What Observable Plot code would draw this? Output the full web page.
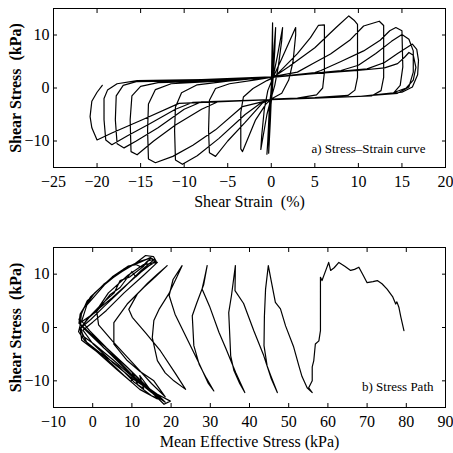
<!DOCTYPE html>
<html><head><meta charset="utf-8">
<script src="https://cdn.jsdelivr.net/npm/d3@7"></script>
<script src="https://cdn.jsdelivr.net/npm/@observablehq/plot@0.6"></script>
<style>body{margin:0;background:#fff;} svg{display:block;} #root{width:453px;} #root svg, #root svg text{font-family:"Liberation Serif","DejaVu Serif",serif !important;}</style>
</head><body><div id="root"></div>
<script>
// ---------- Panel a: shear strain (%) vs shear stress (kPa), in time order ----------
const cyclesEarly = [
  [0,0],[0.05,4],[0.15,12.3],
  [0.15,8],[0.05,0],[-0.1,-6],[-0.3,-12.3],
  [-0.25,-8],[-0.05,-1],[0.2,5],[0.5,11.4],
  [0.4,7],[0.1,-1],[-0.2,-6],[-0.5,-12.5],
  [-0.4,-10],[-0.2,-3],[0.2,2],[0.7,6],[1.3,11.4],
  [1.2,9],[0.8,4],[0.4,0.5],[0,-1.8],[-0.5,-5],[-1.2,-11.6],
  [-1.1,-9],[-0.8,-4],[-0.4,-0.5],[0.2,2],[1.2,5.5],[2.8,11.4],
  [2.8,10],[2.5,5],[2,1.5],[1.2,-1],[0.2,-1.9],[-0.6,-3],[-1.8,-6],[-3.3,-12]
];
const cyclesMid = [
  [-3.5,-11.5],[-3.5,-4.6],[-3.2,-1.7],[-2.1,-0.1],[-0.5,1.4],[0.3,2],[1.5,4],[3,6.5],[4.5,9.5],[5.4,11.8],[6.1,11.9],
  [6.1,10],[6.1,3],[5.9,0],[5.2,-1.3],[3,-1.9],[0,-2.1],[-1,-2.8],[-3,-6.5],[-5,-10],[-6.4,-12.9],
  [-7.1,-12.2],[-7.2,-8],[-7.1,-2.3],[-6.4,-0.1],[-4.8,0.8],[-2,1.5],[0.3,2.1],[2,4],[5,7.6],[7.5,11.5],[8.9,13.6],
  [9.5,12.8],[9.9,12],[9.9,2],[9.6,-0.4],[8.8,-1.4],[5,-1.8],[0,-2.1],[-1,-2.6],[-3,-5],[-6,-9.5],[-8.5,-12.8],[-10.2,-14.4],
  [-11,-13.6],[-11.1,-8],[-11,-3.6],[-10.3,-0.9],[-8.5,0.6],[-5,1.3],[0,2.1],[3,3],[5,4.8],[6.8,6.4],[9,9],[10.6,11.7],[12.4,12.6],[12.9,11.8],
  [12.9,2],[12.6,-0.5],[11.5,-1.5],[5,-1.9],[0,-2.2],[-3.3,-3.5],[-6.4,-7.9],[-9,-10.8],[-11.3,-12.9],[-13.3,-14.1]
];
const cyclesLate = [
  [-14.1,-13.4],[-14.2,-8],[-14.1,-3],[-13.3,-0.3],[-11.5,0.8],[-5,1.4],[0,2],[5,2.9],[5.7,3.3],[8,5],[10.6,7],[12.5,9],[13.6,10.8],[14.3,11.4],
  [15,10.8],[15.1,4],[14.8,0.5],[14,-1.0],[10,-1.6],[0,-2.2],[-6,-2.5],[-8,-4],[-11,-7],[-13.5,-10],[-15.4,-12.6],
  [-16.1,-12],[-16.2,-6],[-16,-1.5],[-15,0.3],[-13,1],[-5,1.4],[0,2],[8,3.3],[10,4.3],[12,6.5],[13.8,8.8],[15,10.1],
  [15.8,9.2],[16.3,7],[16.3,3],[15.8,0.2],[14.5,-1],[10,-1.6],[0,-2.2],[-8,-2.6],[-10,-4],[-13,-7.5],[-15.5,-10],[-16.9,-11.3],
  [-17.7,-10.5],[-17.9,-6],[-17.8,-1.5],[-17,0.5],[-15.5,1.2],[-8,1.4],[0,2],[11,3.6],[13,4.8],[14.5,6.5],[16.2,8.3],
  [16.7,7.3],[16.9,5.2],[16.8,2.5],[16.2,0.2],[15,-0.8],[10,-1.6],[0,-2.2],[-9,-2.7],[-11,-4],[-14,-6.8],[-16.5,-9],[-18.3,-10.7],
  [-19,-9.8],[-19.2,-6],[-19.2,-2],[-18.8,-0.4],[-17.7,0.8],[-15.4,1.4],[-8,1.6],[0,2.1],[9.9,3.3],[13,3.8],[14.5,4.6],[15.3,5.8],[15.8,6.7],
  [16.3,6.2],[16.6,3.9],[16.3,1.5],[15.5,0],[14,-0.9],[10,-1.6],[0,-2.2],[-10.6,-2.9],[-14.8,-6],[-18.3,-8.5],[-20,-9.8],
  [-20.6,-7.5],[-20.8,-5.4],[-20.6,-2.5],[-20,-0.8],[-19.4,0.5]
];

// ---------- Panel b: mean effective stress (kPa) vs shear stress (kPa), in time order ----------
const pathEarly = [
  [79.4,-0.6],[78.6,2.0],[78.1,3.8],[77.6,4.8],[77.3,4.4],[76.5,5.8],[75.1,7.2],[73.8,8.2],[72.6,8.8],[71.5,8.6],[70.0,8.4],
  [69.0,9.8],[67.9,11.3],[66.8,10.9],[65.8,10.7],[64.3,11.5],[62.8,12.2],[61.6,11.2],[60.7,10.7],[60.2,12.2],[59.6,11.0],
  [58.5,8.8],[58.1,9.4],[58.1,4.0],[58.1,-0.6],[57.7,-2.5],[56.8,-3.1],[56.4,-6.2],[56.0,-7.4],[56.0,-10.0],[55.1,-11.3],[56.0,-12.2],
  [54.7,-11.3],[53.4,-9.2],[52.6,-7.2],[51.2,-3.5],[49.2,0.3],[47.9,3.5],[46.6,4.7],[45.6,8.5],[44.8,11.6],
  [44.1,7.2],[43.8,2.0],[43.7,-3.4],[44.5,-7.2],[45.4,-9.0],[47.1,-12.2],
  [45.5,-9.5],[43.5,-5.0],[41.1,-0.6],[38.5,4.5],[36.3,6.9],[36.4,11.6],
  [35.4,6.0],[34.7,2.8],[35.0,-2.0],[35.2,-5.3],[36.0,-8.0],[37.5,-10.5],[38.8,-12.2],
  [36.5,-8.5],[34.0,-4.0],[32.2,-0.9],[29.8,4.0],[27.9,7.2],[28.6,9.5],[29.2,11.6],
  [28.3,8.0],[26.5,4.5],[25.4,2.2],[25.8,-3.4],[27.2,-7.0],[29.0,-9.5],[30.9,-11.9]
];
const pathMid = [
  [29.5,-10.5],[27,-6.5],[24,-2],[21,2.5],[19.5,6],[20.5,9],[22.8,11.6],
  [21.5,9.5],[19.4,6.3],[17,3.5],[15.6,1.3],[15.2,-1.9],[16.5,-6.2],[18.5,-8.5],[20.7,-10],[23.7,-11.6],
  [21,-8.5],[17.3,-4.4],[13.5,-1],[10.1,1.9],[9.2,3.4],[11.4,6.3],[14,8.3],[16.5,10.0],[19,11.6],
  [16,9.5],[13,7.5],[8.8,4.4],[5.4,0.9],[5.4,-3.1],[8.8,-6.2],[12,-8.2],[15.6,-10],[18.5,-13],
  [15,-10.5],[10,-6.5],[5,-2.5],[1.5,0.5],[1,3.2],[4,6.5],[9,9.8],[13,11.8],[16.5,12.2],
  [13,9.8],[8,6.5],[3.5,3.2],[0,1.0],[-2.5,-0.5],[0,-3.0],[5,-6.5],[10,-9.5],[14,-11.5],[17,-13]
];
const pathLate = [
  [13,-10.8],[8.8,-8.1],[4.5,-5],[0,-1.8],[-2.8,0.2],[-3.5,1.5],[-1.4,5.0],[2.8,8.1],[8.8,11.3],[12,12.2],[14.7,13.1],[16,12.5],
  [12,10.2],[8.8,8.1],[5,5.6],[2,3.8],[-1,1.8],[-3,0],[-2.5,-1.6],[0.3,-3.1],[5.4,-6.2],[11.3,-10],[15,-12.2],[17.3,-13.1],[18.5,-14],
  [15,-12.2],[10.5,-9.2],[6,-5.8],[2.8,-3.8],[-0.5,-1.2],[-3.5,0.8],[-3.2,2.5],[-0.5,5.8],[3.5,8.5],[7.5,10.5],[10.5,11.8],[13.5,13.5],[15.5,13.3],[16.2,12.4],
  [13.5,11.2],[11,9.5],[10,10.5],[7,7.5],[4.5,6.2],[1,3],[-3,1],[-3.6,-0.8],[-2,-2.5],[2,-4.8],[6.5,-7.2],[10.5,-10.2],[13,-11.5],[12,-9],[14.5,-11.5],[16.5,-12.5],[19.8,-13.8],[18.2,-14.4],
  [14.5,-11.8],[9,-7.6],[4,-4.2],[0,-1.5],[-3.2,0.6],[-2.8,3],[0.5,6.5],[5,9.5],[9,11.5],[11,11.8],[12.5,11.3],[14,12.5],[15.8,12.8],
  [12.5,10.8],[8,7.5],[3,4],[-0.5,1.5],[-3.2,-0.2],[-2.8,-2.4],[1,-4.5],[6,-7.8],[9.8,-10.2],[10.2,-8.5],[11.5,-10.8],[15,-12.8],[17.5,-13.5],
  [14,-11.2],[8.5,-7.2],[3.5,-3.8],[-0.8,-0.6],[-2.8,1.2],[-1.5,4.2],[3,8],[8,11],[12,12.4],[14.8,13],
  [13,11.5],[9.5,9.5],[7,8.8],[5.5,6.5],[2,4.2],[-1.5,1.5],[-3.2,-0.3],[-1.5,-2.8],[3,-5.5],[8,-9],[12,-11.6],[16.5,-13.4]
];

// ---------- axes ----------
const ticksXA = [-25,-20,-15,-10,-5,0,5,10,15,20];
const ticksXB = [-10,0,10,20,30,40,50,60,70,80,90];
const ticksY = [-10,0,10];
const yTitle = "Shear Stress  (kPa)";
const xTitleA = "Shear Strain  (%)";
const xTitleB = "Mean Effective Stress (kPa)";
const noteA = "a) Stress\u2013Strain curve";
const noteB = "b) Stress Path";

const serif = "Liberation Serif";

function panel({path, xDomain, xTicks, height, marginTop, marginBottom, xTitle, note, noteDx, noteDy}) {
  return Plot.plot({
    width: 453, height, marginLeft: 53, marginRight: 8, marginTop, marginBottom,
    style: {fontFamily: serif, background: "white", color: "black", overflow: "visible"},
    x: {domain: xDomain, axis: null},
    y: {domain: [-15, 15], axis: null},
    marks: [
      Plot.line(path, {x: d => d[0], y: d => d[1], stroke: "black", strokeWidth: 1.2, strokeLinejoin: "round"}),
      Plot.frame({stroke: "black", strokeWidth: 1}),
      Plot.axisX(xTicks, {anchor: "bottom", tickSize: -4, tickFormat: () => "", label: null}),
      Plot.axisX(xTicks, {anchor: "top", tickSize: -4, tickFormat: () => "", label: null}),
      Plot.axisX(xTicks, {anchor: "bottom", tickSize: 0, tickPadding: 8, fontSize: 16, fontFamily: serif, label: null}),
      Plot.axisY(ticksY, {anchor: "left", tickSize: -4, tickFormat: () => "", label: null}),
      Plot.axisY(ticksY, {anchor: "right", tickSize: -4, tickFormat: () => "", label: null}),
      Plot.axisY(ticksY, {anchor: "left", tickSize: 0, tickPadding: 4, fontSize: 16, fontFamily: serif, label: null}),
      Plot.text([xTitle], {text: d => d, frameAnchor: "bottom", dy: 34, fontSize: 16, fontFamily: serif, lineAnchor: "middle"}),
      Plot.text([yTitle], {text: d => d, frameAnchor: "left", dx: -38, rotate: -90, textAnchor: "middle", lineAnchor: "middle", fontSize: 16, fontFamily: serif, fontWeight: "bold"}),
      Plot.text([note], {text: d => d, frameAnchor: "bottom-right", dx: noteDx, dy: noteDy, textAnchor: "end", lineAnchor: "middle", fontSize: 13, fontFamily: serif})
    ]
  });
}

const root = document.getElementById("root");
root.append(panel({
  path: [...cyclesEarly, ...cyclesMid, ...cyclesLate],
  xDomain: [-25, 20], xTicks: ticksXA, height: 215, marginTop: 8, marginBottom: 48,
  xTitle: xTitleA, note: noteA, noteDx: -20, noteDy: -19
}));
root.append(panel({
  path: [...pathEarly, ...pathMid, ...pathLate],
  xDomain: [-10, 90], xTicks: ticksXB, height: 238, marginTop: 32, marginBottom: 46,
  xTitle: xTitleB, note: noteB, noteDx: -12, noteDy: -21
}));
</script></body></html>
